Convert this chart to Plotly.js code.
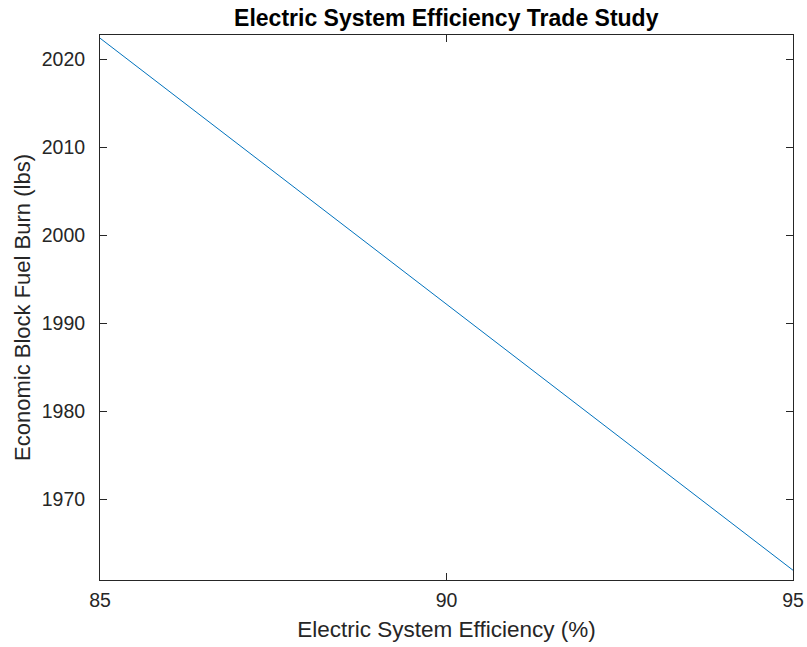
<!DOCTYPE html>
<html>
<head>
<script src="https://cdn.plot.ly/plotly-3.0.1.min.js"></script>
<style>body{margin:0;padding:0;background:#fff;}#chart{width:807px;height:647px;}</style>
</head>
<body>
<div id="chart"></div>
<script>
const efficiency = [85, 95];
const fuelBurn = [2022.4, 1961.9];
const xTicks = [85, 90, 95];
const yTicks = [1970, 1980, 1990, 2000, 2010, 2020];

const axisColor = '#262626';
const fontFam = '"Liberation Sans", Arial, sans-serif';

Plotly.newPlot('chart', [{
  x: efficiency, y: fuelBurn, type: 'scatter', mode: 'lines',
  line: {color: '#0072BD', width: 1}
}], {
  width: 807, height: 647,
  margin: {l: 100, r: 14, t: 35, b: 67},
  paper_bgcolor: '#fff', plot_bgcolor: '#fff',
  showlegend: false,
  title: {text: '<b>Electric System Efficiency Trade Study</b>', x: 0.553, xanchor: 'center', y: 0.972, yanchor: 'middle',
          font: {family: fontFam, size: 23, color: '#000'}},
  xaxis: {
    range: [85, 95], tickvals: xTicks, ticktext: xTicks.map(String),
    ticks: 'inside', ticklen: 7, tickcolor: axisColor, tickwidth: 1,
    showline: true, linecolor: axisColor, linewidth: 1, mirror: 'ticks',
    showgrid: false, zeroline: false, ticklabelstandoff: 3,
    tickfont: {family: fontFam, size: 19.5, color: axisColor},
    title: {text: 'Electric System Efficiency (%)', font: {family: fontFam, size: 22.5, color: axisColor}, standoff: 10}
  },
  yaxis: {
    range: [1960.79, 2022.76], tickvals: yTicks, ticktext: yTicks.map(String),
    ticks: 'inside', ticklen: 7, tickcolor: axisColor, tickwidth: 1,
    showline: true, linecolor: axisColor, linewidth: 1, mirror: 'ticks',
    showgrid: false, zeroline: false, ticklabelstandoff: 10,
    tickfont: {family: fontFam, size: 19.5, color: axisColor},
    title: {text: 'Economic Block Fuel Burn (lbs)', font: {family: fontFam, size: 22, color: axisColor}, standoff: 5}
  }
}, {displayModeBar: false, staticPlot: true});
</script>
</body>
</html>
